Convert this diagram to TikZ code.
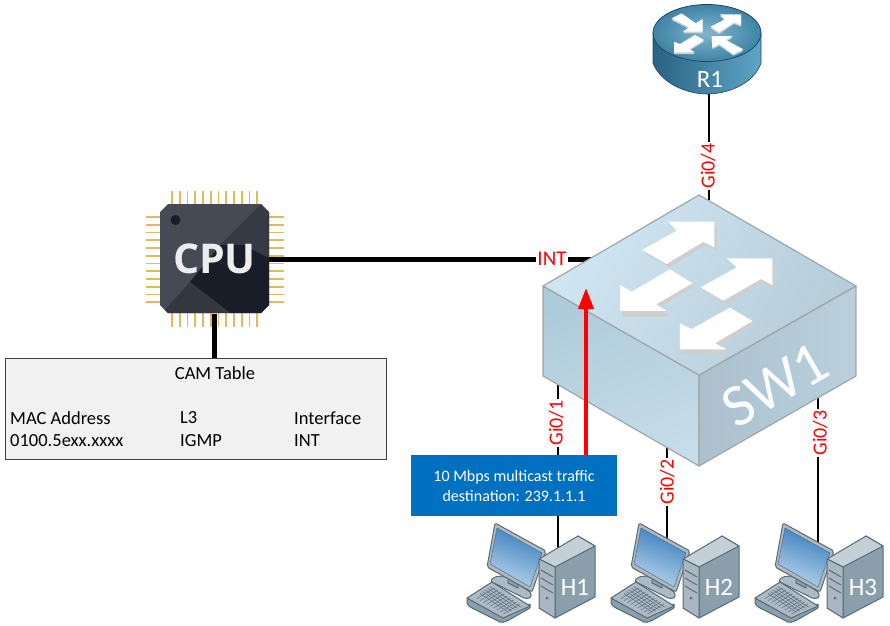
\documentclass[tikz,border=0pt]{standalone}
\usepackage{fontspec}
\setmainfont{Carlito}
\newfontfamily\cpufont{Open Sans}
\usetikzlibrary{arrows.meta}
\definecolor{gold}{HTML}{E3B95A}
\definecolor{pcline}{HTML}{566B7A}
\definecolor{pcside}{HTML}{8A9EAB}
\definecolor{pctop}{HTML}{C5CFD6}
\definecolor{pcfront}{HTML}{A9B7C0}
\definecolor{pcframe}{HTML}{AEBBC4}
\definecolor{scrA}{HTML}{3A7FC0}
\definecolor{scrB}{HTML}{B8D2E8}
\definecolor{cpuA}{HTML}{454B55}
\definecolor{cpuB}{HTML}{353A44}
\definecolor{cpuC}{HTML}{181D28}
\definecolor{cpuD}{HTML}{33383F}
\definecolor{rtSideA}{HTML}{2A6282}
\definecolor{rtSideB}{HTML}{5FA5C6}
\definecolor{rtTopA}{HTML}{7FB6D0}
\definecolor{rtTopB}{HTML}{3F83A5}
\definecolor{rtEdge}{HTML}{1D4A63}
\definecolor{swTopA}{HTML}{D0E6F2}
\definecolor{swTopB}{HTML}{B6CCD8}
\definecolor{swLeftA}{HTML}{AECBDB}
\definecolor{swLeftB}{HTML}{C6DCE8}
\definecolor{swRightA}{HTML}{ABC0CC}
\definecolor{swRightB}{HTML}{BAD1DD}
\definecolor{swEdge}{HTML}{9EA6AA}
\definecolor{arrowShadow}{HTML}{CFCFCF}
\definecolor{trafficBlue}{HTML}{0070C0}
\definecolor{camFill}{HTML}{F2F2F2}
\definecolor{camEdge}{HTML}{404040}
\tikzset{
  thicklink/.style={line width=5pt,black},
  thinlink/.style={line width=1.8pt,black},
  portlabel/.style={text=red,fill=white,inner sep=1pt,font=\fontsize{20}{20}\selectfont},
  camtext/.style={font=\fontsize{18.5}{20}\selectfont,inner sep=0pt},
  swedge/.style={draw=swEdge,line width=1.2pt,line join=round},
  whitearrow/.style={fill=white},
  shadowarrow/.style={fill=arrowShadow},
  pcshape/.style={draw=pcline,line width=1pt,line join=round},
  pc/.pic={
    % keyboard
    \path[pcshape,fill=pcside] (7,88) -- (7,93) .. controls (8,96) and (10,97) .. (12,98) -- (40,112) .. controls (44,113) and (46,111) .. (49,110) -- (70,98) -- (70,94) -- (43,107) -- cycle;
    \path[pcshape,fill=pcframe] (7,88) -- (32,72) -- (70,96) -- (43,108) -- cycle;
    \begin{scope}
      \clip (14,87) -- (32,76) -- (63,96) -- (44,104) -- cycle;
      \foreach \k in {0,3.2,...,40} \draw[pcline,line width=.5pt] (8+\k,90+\k*.62) -- ++(30,-18);
      \foreach \k in {0,5,...,60} \draw[pcline,line width=.5pt] (\k,70) -- ++(30,20) -- ++(30,20);
    \end{scope}
    % stand
    \path[pcshape,fill=pcframe] (32,69) .. controls (38,64) and (46,66) .. (52,70) -- (70,82) .. controls (73,86) and (70,90) .. (64,88) -- (34,73) .. controls (31,72) and (31,70) .. (32,69) -- cycle;
    \path[pcshape,fill=pcside] (48,66) -- (58,72) -- (58,78) -- (48,73) -- cycle;
    % monitor
    \path[pcshape,fill=pcframe,rounded corners=2pt] (35,13) -- (86,41) -- (72,82) -- (27,57) -- cycle;
    \shade[left color=scrA,right color=scrB,shading angle=-20,draw=pcline,line width=.5pt] (37,18) -- (82,43) -- (70,77) -- (30,54) -- cycle;
    % tower
    \path[pcshape,fill=pcside] (118,26) -- (135,36) -- (135,87) -- (95,108) -- (95,57) -- cycle;
    \path[pcshape,fill=pctop] (118,26) -- (135,36) -- (95,57) -- (79,49) -- cycle;
    \path[pcshape,fill=pcfront] (79,49) -- (95,57) -- (95,108) -- (79,98) -- cycle;
    \foreach \k in {0,8,16} \draw[pcline,line width=1pt] (81,60+\k) -- (93,67+\k);
    \fill[pcline] (87,88) circle (1.5pt);
    \node[text=white,font=\fontsize{25}{26}\selectfont,inner sep=0pt] (-name) at (115,77) {#1};
  }
}
\begin{document}
\begin{tikzpicture}[x=1pt,y=-1pt]
\useasboundingbox (0,0) rectangle (890,625);

% named device anchors
\node[minimum width=109pt,minimum height=109pt,inner sep=0pt] (cpu) at (214.5,259) {};
\node[minimum width=108pt,minimum height=90pt,inner sep=0pt] (r1) at (707,49) {};
\coordinate (swint) at (592,259);
\coordinate (swr1) at (709,200);
\coordinate (sw1) at (558,372);
\coordinate (sw2) at (667,440);
\coordinate (sw3) at (818,395);
\coordinate (h1in) at (558,550);
\coordinate (h2in) at (667,550);
\coordinate (h3in) at (818,550);
\coordinate (arrowtip) at (586,288);

% CAM table
\node[draw=camEdge,fill=camFill,line width=1pt,minimum width=381pt,minimum height=101pt,inner sep=0pt] (cam) at (195.5,408.5) {};
\node[camtext] (camt) at (215,373) {CAM Table};
\foreach \nm/\xx/\yy/\txt in {m1/10/418/{MAC Address},m2/180/418/{L3},m3/294/418/{Interface},d1/10/441/{0100.5exx.xxxx},d2/180/441/{IGMP},d3/294/441/{INT}}
  \node[camtext,anchor=west] (\nm) at (\xx,\yy) {\txt};

% links (under the devices)
\draw[thicklink] (cpu.south) -- (cpu.south |- cam.north);
\draw[thicklink] (cpu.east) -- (swint);
\draw[thinlink] (swr1 |- r1.south) -- (swr1);
\draw[thinlink] (sw1) -- (h1in);
\draw[thinlink] (sw2) -- (h2in);
\draw[thinlink] (sw3) -- (h3in);
\node[portlabel,font=\fontsize{21}{22}\selectfont] (intl) at (552,259) {INT};
\node[portlabel,rotate=90] (g4) at (708,166) {Gi0/4};
\node[portlabel,rotate=90] (g1) at (556,423) {Gi0/1};
\node[portlabel,rotate=90] (g2) at (667,482) {Gi0/2};
\node[portlabel,rotate=90] (g3) at (820,433) {Gi0/3};

% CPU pins
\foreach \i in {0,...,11} {
  \draw[gold,line width=1.6pt] (172+\i*7.75,191) -- (172+\i*7.75,204);
  \draw[gold,line width=1.6pt] (172+\i*7.75,313) -- (172+\i*7.75,327);
  \draw[gold,line width=1.6pt] (146,217+\i*7.75) -- (160,217+\i*7.75);
  \draw[gold,line width=1.6pt] (269,217+\i*7.75) -- (284,217+\i*7.75);
}
\draw[thicklink] (cpu.east) -- ++(16,0);
\draw[thicklink] (cpu.south) -- ++(0,16);
% CPU body
\fill[cpuA] (168,204) -- (261,204) -- (269,212) -- (269,305) -- (261,313) -- (168,313) -- (160,305) -- (160,212) -- cycle;
\fill[cpuB] (261,204) -- (269,212) -- (269,258) -- (243,245) -- (220,245) -- cycle;
\fill[cpuC] (269,258) -- (243,245) -- (220,245) -- (190,282) -- (230,313) -- (261,313) -- (269,305) -- cycle;
\fill[cpuD] (190,282) -- (230,313) -- (168,313) -- (165,310) -- cycle;
\fill[cpuC] (175.5,220) circle (5pt);
\node[text=white!93!black,font=\cpufont\bfseries\fontsize{41}{43}\selectfont,inner sep=0pt] (cpul) at (cpu.center) {CPU};

% Router
\shade[left color=rtSideA,right color=rtSideB,draw=rtEdge,line width=.6pt] (653,33) -- (653,63) .. controls (660,82) and (685,94) .. (707,94) .. controls (730,94) and (755,82) .. (761,63) -- (761,33) -- cycle;
\shade[inner color=rtTopA,outer color=rtTopB,draw=rtEdge,line width=.8pt] (707,33) ellipse [x radius=54pt,y radius=28.5pt];
\begin{scope}[shift={(630,0)},x=.3333pt,y=-.3333pt]
  \fill[shadowarrow] (125,60) -- (155,45) -- (197,75) -- (218,62) -- (218,100) -- (158,100) -- (178,87) -- cycle;
  \fill[shadowarrow] (242,85) -- (285,63) -- (270,48) -- (333,48) -- (333,80) -- (312,72) -- (267,102) -- cycle;
  \fill[shadowarrow] (195,110) -- (222,125) -- (178,152) -- (195,162) -- (132,162) -- (132,130) -- (150,137) -- cycle;
  \fill[shadowarrow] (245,113) -- (308,113) -- (288,125) -- (340,153) -- (310,167) -- (268,137) -- (247,148) -- cycle;
  \fill[whitearrow] (125,55) -- (155,40) -- (197,70) -- (218,57) -- (218,95) -- (158,95) -- (178,82) -- cycle;
  \fill[whitearrow] (242,80) -- (285,58) -- (270,43) -- (333,43) -- (333,75) -- (312,67) -- (267,97) -- cycle;
  \fill[whitearrow] (195,105) -- (222,120) -- (178,147) -- (195,157) -- (132,157) -- (132,125) -- (150,132) -- cycle;
  \fill[whitearrow] (245,108) -- (308,108) -- (288,120) -- (340,148) -- (310,162) -- (268,132) -- (247,143) -- cycle;
\end{scope}
\node[text=white,font=\fontsize{25}{27}\selectfont,inner sep=0pt] (r1l) at (710,79) {R1};

% Switch
\shade[left color=swLeftA,right color=swLeftB,shading angle=20,swedge] (543,286) -- (699,375) -- (699,466) -- (543,376) -- cycle;
\shade[left color=swRightA,right color=swRightB,swedge] (699,375) -- (856,286) -- (856,376) -- (699,466) -- cycle;
\shade[left color=swTopA,right color=swTopB,shading angle=60,swedge] (699,195) -- (856,286) -- (699,375) -- (543,286) -- cycle;
\begin{scope}[shift={(530,190)},x=.3333pt,y=-.3333pt]
  \fill[shadowarrow] (345,190) -- (448,132) -- (423,105) -- (561,105) -- (561,182) -- (528,165) -- (418,232) -- cycle;
  \fill[shadowarrow] (520,302) -- (628,242) -- (598,215) -- (735,215) -- (735,295) -- (701,277) -- (588,342) -- cycle;
  \fill[shadowarrow] (428,248) -- (495,290) -- (386,353) -- (418,380) -- (278,380) -- (278,295) -- (313,315) -- cycle;
  \fill[shadowarrow] (608,363) -- (675,403) -- (563,470) -- (598,493) -- (458,493) -- (458,410) -- (493,427) -- cycle;
  \fill[whitearrow] (337,180) -- (440,122) -- (415,95) -- (553,95) -- (553,172) -- (520,155) -- (410,222) -- cycle;
  \fill[whitearrow] (512,292) -- (620,232) -- (590,205) -- (727,205) -- (727,285) -- (693,267) -- (580,332) -- cycle;
  \fill[whitearrow] (420,238) -- (487,280) -- (378,343) -- (410,363) -- (270,363) -- (270,285) -- (305,305) -- cycle;
  \fill[whitearrow] (600,353) -- (667,393) -- (555,460) -- (590,478) -- (450,478) -- (450,400) -- (485,417) -- cycle;
\end{scope}
\node[text=white!90!swTopA,rotate=30,font=\fontsize{60}{62}\selectfont,inner sep=0pt] (swl) at (775,385) {SW1};

% PCs
\pic (h1) at (460,510) {pc=H1};
\pic (h2) at (604,510) {pc=H2};
\pic (h3) at (748,510) {pc=H3};

% Traffic box and arrow
\node[fill=trafficBlue,minimum width=206pt,minimum height=61pt,inner sep=0pt,align=center,text=white,font=\fontsize{16}{20}\selectfont] (traffic) at (514,485.5) {10 Mbps multicast traffic\\destination: 239.1.1.1};
\draw[red,line width=4pt,-{Triangle[width=15pt,length=21pt]}] (arrowtip |- traffic.north) -- (arrowtip);
\end{tikzpicture}
\end{document}
